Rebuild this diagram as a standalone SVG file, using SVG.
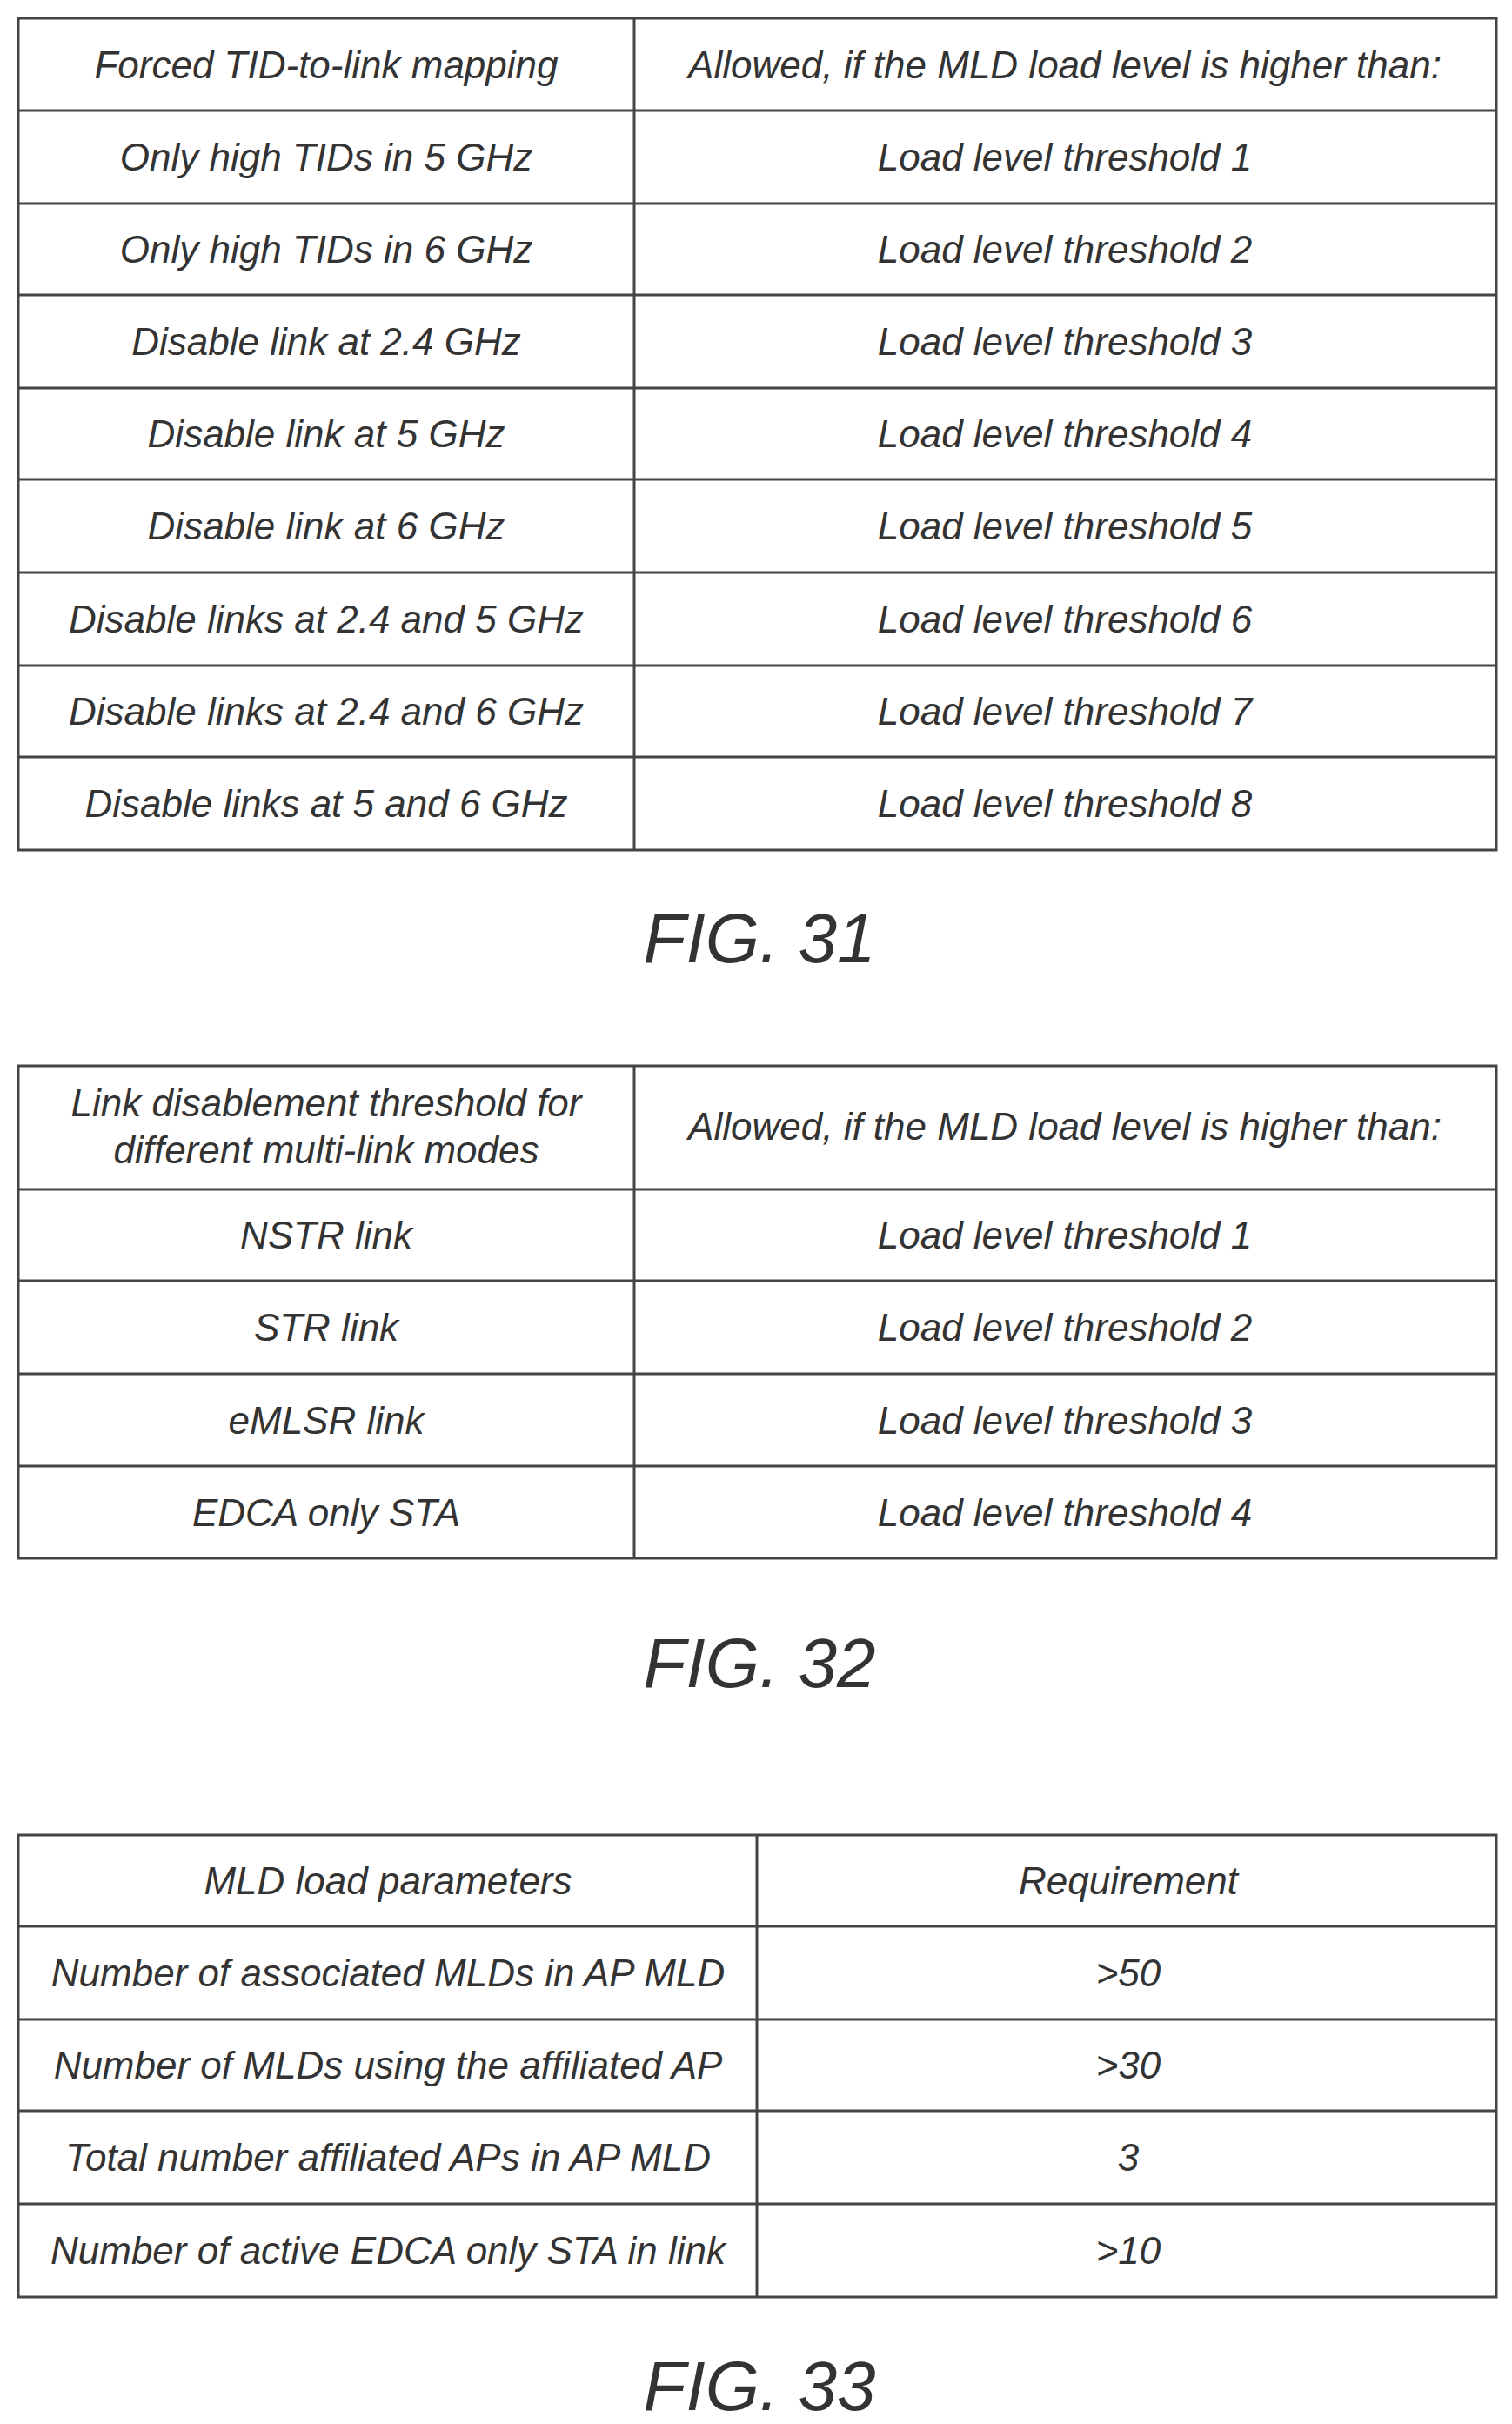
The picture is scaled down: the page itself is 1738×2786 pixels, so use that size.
<svg xmlns="http://www.w3.org/2000/svg" width="1738" height="2786" viewBox="0 0 1738 2786">
<style>
.t{font-family:"Liberation Sans",Arial,sans-serif;font-style:italic;font-size:44px;fill:#333;text-anchor:middle;dominant-baseline:central}
.f{font-family:"Liberation Sans",Arial,sans-serif;font-style:italic;font-size:80px;fill:#333;text-anchor:middle}
.g line,.g rect{stroke:#444;stroke-width:3;fill:none}
</style>
<rect width="1738" height="2786" fill="#fff"/>
<g id="table31" class="g">
<rect x="21" y="21" width="1699" height="956"/>
<line x1="729" y1="21" x2="729" y2="977"/>
<line x1="21" y1="127" x2="1720" y2="127"/>
<line x1="21" y1="234" x2="1720" y2="234"/>
<line x1="21" y1="339" x2="1720" y2="339"/>
<line x1="21" y1="446" x2="1720" y2="446"/>
<line x1="21" y1="551" x2="1720" y2="551"/>
<line x1="21" y1="658" x2="1720" y2="658"/>
<line x1="21" y1="765" x2="1720" y2="765"/>
<line x1="21" y1="870" x2="1720" y2="870"/>
<text class="t" x="375" y="74">Forced TID-to-link mapping</text>
<text class="t" x="1224" y="74">Allowed, if the MLD load level is higher than:</text>
<text class="t" x="375" y="180">Only high TIDs in 5 GHz</text>
<text class="t" x="1224" y="180">Load level threshold 1</text>
<text class="t" x="375" y="286">Only high TIDs in 6 GHz</text>
<text class="t" x="1224" y="286">Load level threshold 2</text>
<text class="t" x="375" y="392">Disable link at 2.4 GHz</text>
<text class="t" x="1224" y="392">Load level threshold 3</text>
<text class="t" x="375" y="498">Disable link at 5 GHz</text>
<text class="t" x="1224" y="498">Load level threshold 4</text>
<text class="t" x="375" y="604">Disable link at 6 GHz</text>
<text class="t" x="1224" y="604">Load level threshold 5</text>
<text class="t" x="375" y="711">Disable links at 2.4 and 5 GHz</text>
<text class="t" x="1224" y="711">Load level threshold 6</text>
<text class="t" x="375" y="817">Disable links at 2.4 and 6 GHz</text>
<text class="t" x="1224" y="817">Load level threshold 7</text>
<text class="t" x="375" y="923">Disable links at 5 and 6 GHz</text>
<text class="t" x="1224" y="923">Load level threshold 8</text>
</g>
<text class="f" x="873" y="1106">FIG. 31</text>
<g id="table32" class="g">
<rect x="21" y="1225" width="1699" height="566"/>
<line x1="729" y1="1225" x2="729" y2="1791"/>
<line x1="21" y1="1367" x2="1720" y2="1367"/>
<line x1="21" y1="1472" x2="1720" y2="1472"/>
<line x1="21" y1="1579" x2="1720" y2="1579"/>
<line x1="21" y1="1685" x2="1720" y2="1685"/>
<text class="t" x="375" y="1267">Link disablement threshold for</text>
<text class="t" x="375" y="1321">different multi-link modes</text>
<text class="t" x="1224" y="1294">Allowed, if the MLD load level is higher than:</text>
<text class="t" x="375" y="1419">NSTR link</text>
<text class="t" x="1224" y="1419">Load level threshold 1</text>
<text class="t" x="375" y="1525">STR link</text>
<text class="t" x="1224" y="1525">Load level threshold 2</text>
<text class="t" x="375" y="1632">eMLSR link</text>
<text class="t" x="1224" y="1632">Load level threshold 3</text>
<text class="t" x="375" y="1738">EDCA only STA</text>
<text class="t" x="1224" y="1738">Load level threshold 4</text>
</g>
<text class="f" x="873" y="1939">FIG. 32</text>
<g id="table33" class="g">
<rect x="21" y="2109" width="1699" height="531"/>
<line x1="870" y1="2109" x2="870" y2="2640"/>
<line x1="21" y1="2214" x2="1720" y2="2214"/>
<line x1="21" y1="2321" x2="1720" y2="2321"/>
<line x1="21" y1="2426" x2="1720" y2="2426"/>
<line x1="21" y1="2533" x2="1720" y2="2533"/>
<text class="t" x="446" y="2161">MLD load parameters</text>
<text class="t" x="1297" y="2161">Requirement</text>
<text class="t" x="446" y="2267">Number of associated MLDs in AP MLD</text>
<text class="t" x="1297" y="2267">&gt;50</text>
<text class="t" x="446" y="2373">Number of MLDs using the affiliated AP</text>
<text class="t" x="1297" y="2373">&gt;30</text>
<text class="t" x="446" y="2479">Total number affiliated APs in AP MLD</text>
<text class="t" x="1297" y="2479">3</text>
<text class="t" x="446" y="2586">Number of active EDCA only STA in link</text>
<text class="t" x="1297" y="2586">&gt;10</text>
</g>
<text class="f" x="873" y="2770">FIG. 33</text>
</svg>
